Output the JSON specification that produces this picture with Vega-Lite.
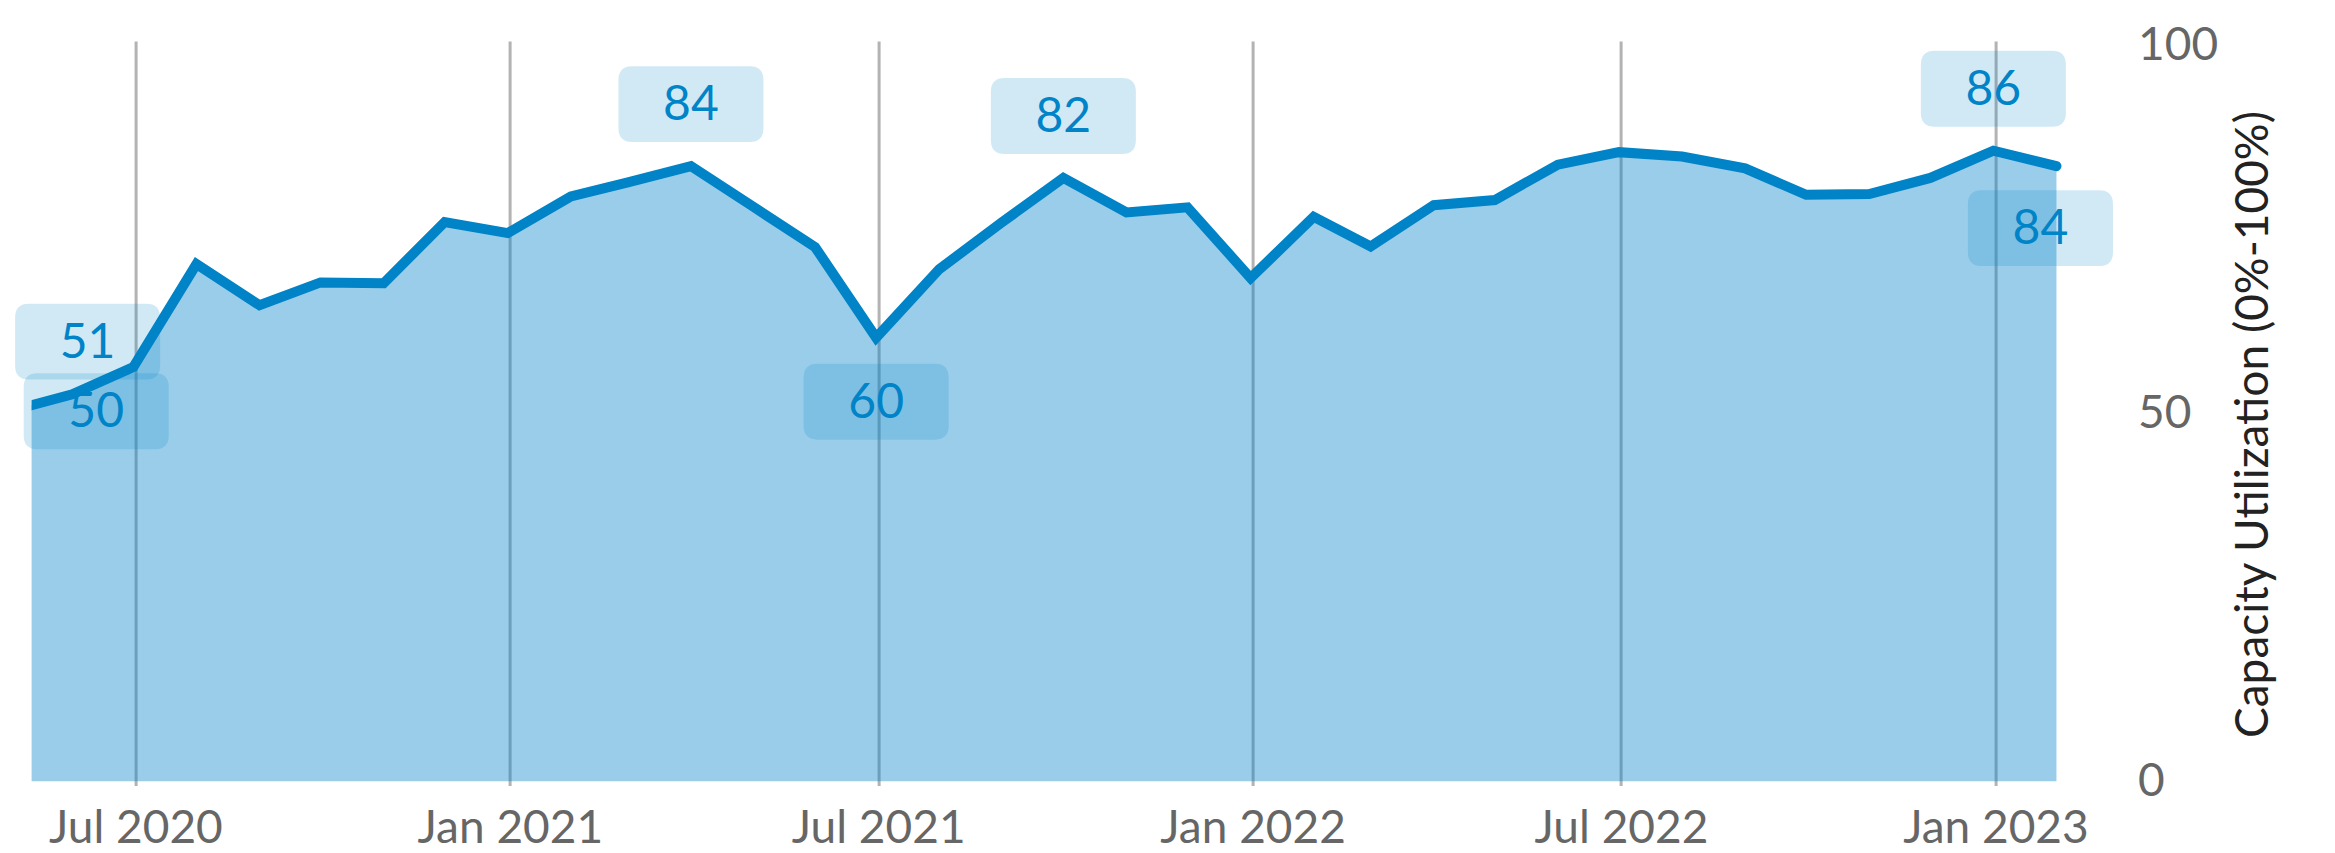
{
  "$schema": "https://vega.github.io/schema/vega-lite/v6.json",
  "width": 2033,
  "height": 740.5,
  "autosize": {"type": "none"},
  "padding": {"left": 31.6, "top": 41, "right": 270.4, "bottom": 71.5},
  "background": "white",
  "config": {"view": {"stroke": null}, "font": "Lato"},
  "datasets": {
    "series": [
      {"date": "2020-04-30", "value": 50.3},
      {"date": "2020-05-31", "value": 52.6},
      {"date": "2020-06-30", "value": 56.3},
      {"date": "2020-07-31", "value": 70.3},
      {"date": "2020-08-31", "value": 64.7},
      {"date": "2020-09-30", "value": 67.8},
      {"date": "2020-10-31", "value": 67.7},
      {"date": "2020-11-30", "value": 76.0},
      {"date": "2020-12-31", "value": 74.5},
      {"date": "2021-01-31", "value": 79.5},
      {"date": "2021-02-28", "value": 81.4},
      {"date": "2021-03-31", "value": 83.6},
      {"date": "2021-04-30", "value": 78.2},
      {"date": "2021-05-31", "value": 72.6},
      {"date": "2021-06-30", "value": 60.3},
      {"date": "2021-07-31", "value": 69.6},
      {"date": "2021-08-31", "value": 76.0},
      {"date": "2021-09-30", "value": 82.0},
      {"date": "2021-10-31", "value": 77.3},
      {"date": "2021-11-30", "value": 78.0},
      {"date": "2021-12-31", "value": 68.4},
      {"date": "2022-01-31", "value": 76.7},
      {"date": "2022-02-28", "value": 72.7},
      {"date": "2022-03-31", "value": 78.3},
      {"date": "2022-04-30", "value": 79.0},
      {"date": "2022-05-31", "value": 83.8},
      {"date": "2022-06-30", "value": 85.5},
      {"date": "2022-07-31", "value": 84.9},
      {"date": "2022-08-31", "value": 83.3},
      {"date": "2022-09-30", "value": 79.7},
      {"date": "2022-10-31", "value": 79.8},
      {"date": "2022-11-30", "value": 82.0},
      {"date": "2022-12-31", "value": 85.7},
      {"date": "2023-01-31", "value": 83.6}
    ],
    "notes": [
      {"date": "2021-03-31", "value": 83.6, "label": "84", "place": "above"},
      {"date": "2021-09-30", "value": 82.0, "label": "82", "place": "above"},
      {"date": "2022-12-31", "value": 85.7, "label": "86", "place": "above"},
      {"date": "2021-06-30", "value": 60.3, "label": "60", "place": "below"},
      {"date": "2023-01-31", "value": 83.6, "label": "84", "place": "end"},
      {"date": "2020-05-11", "value": 51.2, "label": "51", "place": "start"},
      {"date": "2020-04-30", "value": 50.3, "label": "50", "place": "first"}
    ]
  },
  "encoding": {
    "x": {
      "field": "date",
      "type": "temporal",
      "scale": {
        "type": "utc",
        "domain": [
          {"year": 2020, "month": 5, "date": 11, "utc": true},
          {"year": 2023, "month": 2, "date": 4, "utc": true}
        ]
      },
      "axis": {
        "title": null,
        "orient": "bottom",
        "tickCount": {"interval": "month", "step": 6},
        "format": "%b %Y",
        "grid": true,
        "gridColor": "#b3b3b3",
        "gridWidth": 3,
        "ticks": true,
        "tickColor": "#b3b3b3",
        "tickWidth": 3,
        "tickSize": 4,
        "domain": false,
        "labelFont": "Lato",
        "labelFontSize": 46,
        "labelColor": "#666666",
        "labelPadding": 21,
        "labelFlush": false,
        "labelOverlap": false,
        "labelLimit": 0
      }
    },
    "y": {
      "field": "value",
      "type": "quantitative",
      "scale": {"domain": [0, 100.6], "nice": false, "zero": true},
      "axis": {
        "orient": "right",
        "title": "Capacity Utilization (0%-100%)",
        "values": [0, 50, 100],
        "grid": false,
        "ticks": false,
        "domain": false,
        "labelFont": "Lato",
        "labelFontSize": 46,
        "labelColor": "#666666",
        "labelPadding": 73,
        "labelLimit": 0,
        "titleFont": "Lato",
        "titleFontSize": 46,
        "titleFontWeight": "normal",
        "titleColor": "#222222",
        "titleAngle": 270,
        "titleBaseline": "top",
        "titlePadding": 14,
        "titleY": 383,
        "titleLimit": 0
      }
    }
  },
  "layer": [
    {
      "data": {"name": "series"},
      "mark": {"type": "area", "color": "#0083c7", "opacity": 0.4, "clip": true}
    },
    {
      "data": {"name": "series"},
      "mark": {"type": "line", "color": "#0083c7", "strokeWidth": 10, "strokeCap": "round", "strokeJoin": "miter", "clip": true}
    },
    {
      "data": {"name": "notes"},
      "transform": [{"filter": "datum.place === 'above'"}],
      "layer": [
        {"mark": {"type": "point", "shape": "M-0.81,-0.524L0.81,-0.524Q1,-0.524,1,-0.334L1,0.334Q1,0.524,0.81,0.524L-0.81,0.524Q-1,0.524,-1,0.334L-1,-0.334Q-1,-0.524,-0.81,-0.524Z", "size": 21025, "filled": true, "color": "#0083c7", "opacity": 0.18, "strokeWidth": 0, "yOffset": -62}},
        {"mark": {"type": "text", "font": "Lato", "fontSize": 48, "color": "#0083c7", "align": "center", "baseline": "middle", "yOffset": -60}, "encoding": {"text": {"field": "label"}}}
      ]
    },
    {
      "data": {"name": "notes"},
      "transform": [{"filter": "datum.place === 'below'"}],
      "layer": [
        {"mark": {"type": "point", "shape": "M-0.81,-0.524L0.81,-0.524Q1,-0.524,1,-0.334L1,0.334Q1,0.524,0.81,0.524L-0.81,0.524Q-1,0.524,-1,0.334L-1,-0.334Q-1,-0.524,-0.81,-0.524Z", "size": 21025, "filled": true, "color": "#0083c7", "opacity": 0.18, "strokeWidth": 0, "yOffset": 64}},
        {"mark": {"type": "text", "font": "Lato", "fontSize": 48, "color": "#0083c7", "align": "center", "baseline": "middle", "yOffset": 66}, "encoding": {"text": {"field": "label"}}}
      ]
    },
    {
      "data": {"name": "notes"},
      "transform": [{"filter": "datum.place === 'end'"}],
      "layer": [
        {"mark": {"type": "point", "shape": "M-0.81,-0.524L0.81,-0.524Q1,-0.524,1,-0.334L1,0.334Q1,0.524,0.81,0.524L-0.81,0.524Q-1,0.524,-1,0.334L-1,-0.334Q-1,-0.524,-0.81,-0.524Z", "size": 21025, "filled": true, "color": "#0083c7", "opacity": 0.18, "strokeWidth": 0, "xOffset": -16, "yOffset": 62}},
        {"mark": {"type": "text", "font": "Lato", "fontSize": 48, "color": "#0083c7", "align": "center", "baseline": "middle", "xOffset": -16, "yOffset": 64}, "encoding": {"text": {"field": "label"}}}
      ]
    },
    {
      "data": {"name": "notes"},
      "transform": [{"filter": "datum.place === 'start'"}],
      "layer": [
        {"mark": {"type": "point", "shape": "M-0.81,-0.524L0.81,-0.524Q1,-0.524,1,-0.334L1,0.334Q1,0.524,0.81,0.524L-0.81,0.524Q-1,0.524,-1,0.334L-1,-0.334Q-1,-0.524,-0.81,-0.524Z", "size": 21025, "filled": true, "color": "#0083c7", "opacity": 0.18, "strokeWidth": 0, "xOffset": 56, "yOffset": -63}},
        {"mark": {"type": "text", "font": "Lato", "fontSize": 48, "color": "#0083c7", "align": "center", "baseline": "middle", "xOffset": 56, "yOffset": -61}, "encoding": {"text": {"field": "label"}}}
      ]
    },
    {
      "data": {"name": "notes"},
      "transform": [{"filter": "datum.place === 'first'"}],
      "layer": [
        {"mark": {"type": "point", "shape": "M-0.81,-0.524L0.81,-0.524Q1,-0.524,1,-0.334L1,0.334Q1,0.524,0.81,0.524L-0.81,0.524Q-1,0.524,-1,0.334L-1,-0.334Q-1,-0.524,-0.81,-0.524Z", "size": 21025, "filled": true, "color": "#0083c7", "opacity": 0.18, "strokeWidth": 0, "xOffset": 87, "yOffset": 0}},
        {"mark": {"type": "text", "font": "Lato", "fontSize": 48, "color": "#0083c7", "align": "center", "baseline": "middle", "xOffset": 87, "yOffset": 2}, "encoding": {"text": {"field": "label"}}}
      ]
    }
  ]
}
